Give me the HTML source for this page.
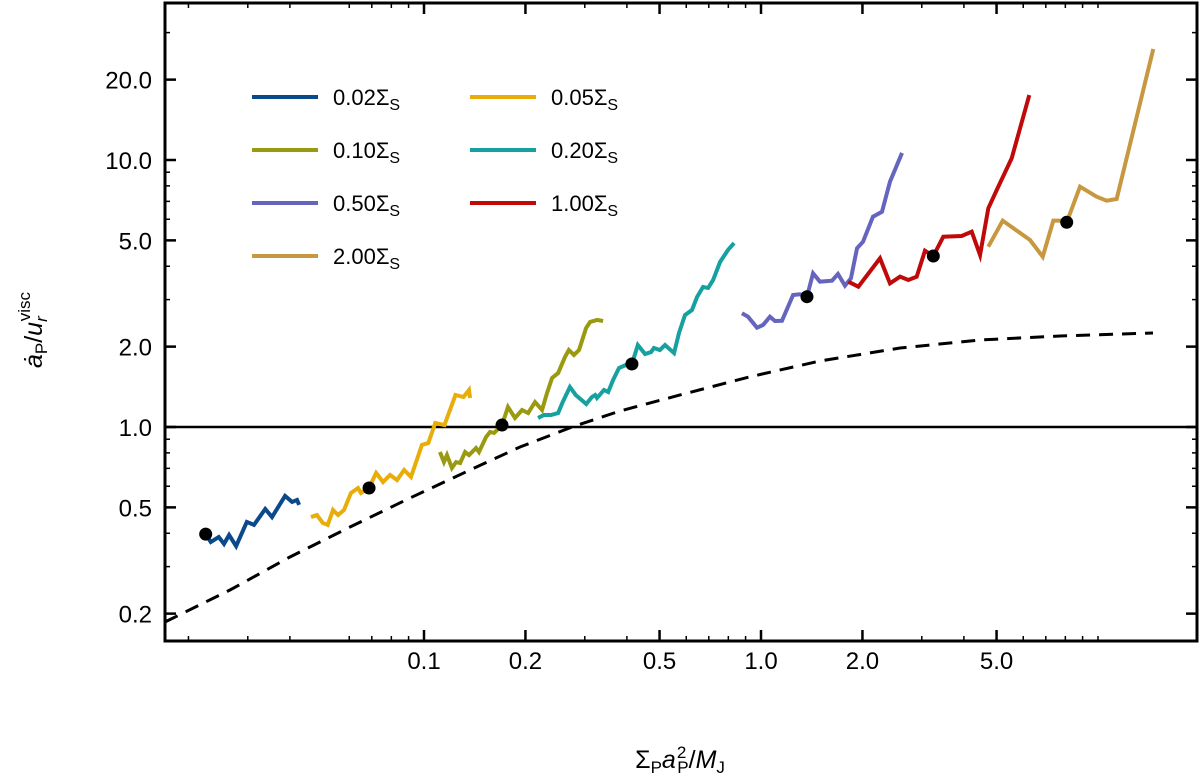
<!DOCTYPE html>
<html><head><meta charset="utf-8"><style>
html,body{margin:0;padding:0;background:#fff;width:1200px;height:778px;overflow:hidden}
svg text{font-family:"Liberation Sans",Arial,sans-serif;fill:#000}
</style></head><body>
<svg id="chart" width="1200" height="778" viewBox="0 0 1200 778" xmlns="http://www.w3.org/2000/svg">
<g id="plot"></g>
<g id="axes"></g>
<g id="legend"></g>
<text x="680" y="768" text-anchor="middle" font-size="25">Σ<tspan font-size="17" dy="5">P</tspan><tspan dy="-5" font-style="italic">a</tspan><tspan font-size="17" dx="1" dy="-10">2</tspan><tspan font-size="17" dx="-9" dy="15">P</tspan><tspan dy="-5">/</tspan><tspan font-style="italic">M</tspan><tspan font-size="17" dy="5">J</tspan></text>
<text transform="translate(42,330) rotate(-90)" text-anchor="middle" font-size="25"><tspan font-style="italic">ȧ</tspan><tspan font-size="17" dy="5">P</tspan><tspan dy="-5">/</tspan><tspan font-style="italic">u</tspan><tspan font-size="17" font-style="italic" dy="5">r</tspan><tspan font-size="17" dx="-5" dy="-17">visc</tspan></text>
</svg>
<script>
const seriesNames = ["0.02ΣS","0.05ΣS","0.10ΣS","0.20ΣS","0.50ΣS","1.00ΣS","2.00ΣS"];
const seriesColors = ["#0b4a8a","#e8ad08","#9a9a10","#16a0a0","#6565c0","#c00a0a","#c89840"];
const xBlue = [.0225,.0233,.0246,.0255,.0264,.0277,.0298,.0313,.0338,.0354,.0387,.0406,.0420,.0426];
const yBlue = [.397,.371,.387,.365,.394,.358,.441,.430,.493,.460,.552,.524,.533,.511];
const xYellow = [.0462,.0481,.0501,.0518,.0537,.0556,.0579,.0607,.0637,.0650,.0687,.0721,.0756,.0793,.0832,.0873,.0915,.0986,.103,.108,.115,.124,.131,.136,.137];
const yYellow = [.460,.468,.437,.430,.489,.468,.489,.566,.591,.566,.591,.673,.622,.661,.633,.690,.650,.857,.871,1.035,1.017,1.318,1.295,1.376,1.284];
const xOlive = [.1115,.1146,.117,.121,.1245,.128,.1324,.136,.1427,.1456,.1528,.157,.1614,.1704,.1775,.1862,.1954,.2037,.2135,.224,.2318,.2399,.250,.262,.269,.2786,.2884,.3027,.311,.3263,.340];
const yOlive = [.806,.739,.785,.702,.739,.733,.806,.785,.834,.806,.917,.958,.950,1.017,1.188,1.081,1.158,1.128,1.240,1.158,1.341,1.526,1.592,1.828,1.942,1.861,1.942,2.349,2.473,2.517,2.494];
const xTeal = [.218,.227,.238,.250,.258,.271,.282,.303,.315,.322,.326,.342,.352,.364,.379,.397,.414,.431,.453,.472,.481,.501,.519,.552,.571,.595,.624,.646,.673,.697,.721,.756,.798,.832];
const yTeal = [1.081,1.109,1.109,1.128,1.240,1.412,1.318,1.219,1.295,1.318,1.284,1.376,1.352,1.500,1.663,1.707,1.722,2.028,1.876,1.909,1.976,1.942,2.028,1.892,2.249,2.626,2.742,3.069,3.344,3.317,3.553,4.150,4.603,4.887];
const xPurple = [.878,.915,.973,1.014,1.063,1.100,1.154,1.245,1.305,1.369,1.427,1.496,1.624,1.692,1.775,1.849,1.927,2.008,2.149,2.286,2.414,2.621];
const yPurple = [2.666,2.589,2.355,2.410,2.589,2.494,2.500,3.122,3.141,3.076,3.764,3.502,3.531,3.741,3.383,3.605,4.668,4.943,6.133,6.40,8.294,10.63];
const xRed = [1.816,1.945,2.255,2.414,2.586,2.736,2.897,3.066,3.246,3.475,3.940,4.220,4.467,4.726,5.006,5.545,6.254];
const yRed = [3.502,3.354,4.283,3.452,3.656,3.553,3.656,4.574,4.369,5.161,5.193,5.389,4.406,6.592,7.72,10.15,17.51];
const xGold = [4.726,5.215,6.284,6.855,7.369,7.714,8.075,8.843,9.91,10.61,11.36,14.59];
const yGold = [4.735,5.926,5.016,4.343,5.926,5.926,5.844,7.943,7.288,7.04,7.144,26.05];
const dotX = [.0225,.0687,.1704,.414,1.369,3.246,8.075];
const dotY = [.397,.591,1.017,1.722,3.076,4.369,5.844];
const curveX = [.01704,.02656,.04002,.06031,.09089,.1369,.1927,.2749,.3816,.5750,.9213,1.496,2.586,4.467,7.714,14.56];
const curveY = [.1861,.2452,.3260,.4221,.5421,.690,.8416,1.0,1.148,1.318,1.539,1.767,1.976,2.118,2.192,2.249];
const xTickVals = [0.1,0.2,0.5,1.0,2.0,5.0];
const xTickLabels = ["0.1","0.2","0.5","1.0","2.0","5.0"];
const xMinorVals = [0.02,0.03,0.04,0.06,0.07,0.08,0.09,0.3,0.4,0.6,0.7,0.8,0.9,3,4,6,7,8,9,10,20];
const yTickVals = [0.2,0.5,1.0,2.0,5.0,10.0,20.0];
const yTickLabels = ["0.2","0.5","1.0","2.0","5.0","10.0","20.0"];
const yMinorVals = [0.3,0.4,0.6,0.7,0.8,0.9,3,4,6,7,8,9,30];

const L=165,R=1197,T=3,B=641;
const sx = v => 761 + 337*Math.log10(v);
const sy = v => 427 - 267*Math.log10(v);
const NS="http://www.w3.org/2000/svg";
function mk(tag, parent){const e=document.createElementNS(NS,tag);parent.appendChild(e);return e;}
const plot=document.getElementById('plot'), axes=document.getElementById('axes'), legend=document.getElementById('legend');

const cp=mk('clipPath',plot); cp.setAttribute('id','clip');
const cr=mk('rect',cp); cr.setAttribute('x',L);cr.setAttribute('y',T);cr.setAttribute('width',R-L);cr.setAttribute('height',B-T);
const g=mk('g',plot); g.setAttribute('clip-path','url(#clip)');

const ref=mk('line',g);


ref.setAttribute('x1',L);ref.setAttribute('x2',R);ref.setAttribute('y1',sy(1));ref.setAttribute('y2',sy(1));
ref.setAttribute('stroke','#000');ref.setAttribute('stroke-width','2.5');

const dc=mk('polyline',g);


dc.setAttribute('points',curveX.map((x,i)=>sx(x)+','+sy(curveY[i])).join(' '));
dc.setAttribute('fill','none');dc.setAttribute('stroke','#000');dc.setAttribute('stroke-width','3');dc.setAttribute('stroke-dasharray','14 9');

const sets=[[xBlue,yBlue],[xYellow,yYellow],[xOlive,yOlive],[xTeal,yTeal],[xPurple,yPurple],[xRed,yRed],[xGold,yGold]];
sets.forEach((s,k)=>{
  const p=mk('polyline',g);
  
  
  p.setAttribute('points',s[0].map((x,i)=>sx(x)+','+sy(s[1][i])).join(' '));
  p.setAttribute('fill','none');p.setAttribute('stroke',seriesColors[k]);p.setAttribute('stroke-width','4');p.setAttribute('stroke-linejoin','miter');
});
dotX.forEach((x,i)=>{
  const c=mk('circle',g);
  
  
  c.setAttribute('cx',sx(x));c.setAttribute('cy',sy(dotY[i]));c.setAttribute('r','6.5');c.setAttribute('fill','#000');
});

const fr=mk('rect',axes);


fr.setAttribute('x',L);fr.setAttribute('y',T);fr.setAttribute('width',R-L);fr.setAttribute('height',B-T);
fr.setAttribute('fill','none');fr.setAttribute('stroke','#000');fr.setAttribute('stroke-width','3');

function tick(x1,y1,x2,y2,w){const t=mk('line',axes);
  
  
  t.setAttribute('x1',x1);t.setAttribute('x2',x2);t.setAttribute('y1',y1);t.setAttribute('y2',y2);t.setAttribute('stroke','#000');t.setAttribute('stroke-width',w);}
xMinorVals.forEach(v=>{const x=sx(v); if(x>L&&x<R){tick(x,B,x,B-5,1.5);tick(x,T,x,T+5,1.5);}});
yMinorVals.forEach(v=>{const y=sy(v); if(y>T&&y<B){tick(L,y,L+5,y,1.5);tick(R,y,R-5,y,1.5);}});
xTickVals.forEach((v,i)=>{
  const x=sx(v);
  tick(x,B,x,B-11,2.5);tick(x,T,x,T+11,2.5);
  const tx=mk('text',axes);
  
  
  tx.setAttribute('x',x);tx.setAttribute('y',669);tx.setAttribute('text-anchor','middle');tx.setAttribute('font-size','24');
  tx.textContent=xTickLabels[i];
});
yTickVals.forEach((v,i)=>{
  const y=sy(v);
  tick(L,y,L+11,y,2.5);tick(R,y,R-11,y,2.5);
  const tx=mk('text',axes);
  
  
  tx.setAttribute('x',152);tx.setAttribute('y',y+9);tx.setAttribute('text-anchor','end');tx.setAttribute('font-size','24');
  tx.textContent=yTickLabels[i];
});

seriesNames.forEach((n,k)=>{
  const col=k%2, row=Math.floor(k/2);
  const x0=col?470:252, y0=97+row*53;
  const e=mk('g',legend);
  
  
  const ln=mk('line',e);
  ln.setAttribute('x1',x0);ln.setAttribute('x2',x0+66);ln.setAttribute('y1',y0);ln.setAttribute('y2',y0);
  ln.setAttribute('stroke',seriesColors[k]);ln.setAttribute('stroke-width','4');
  const t=mk('text',e);
  t.setAttribute('x',x0+81);t.setAttribute('y',y0+8);t.setAttribute('font-size','22');
  const num=n.replace('ΣS','');
  t.innerHTML=num+'Σ<tspan font-size="16" dy="5">S</tspan>';
});
</script>
</body></html>
